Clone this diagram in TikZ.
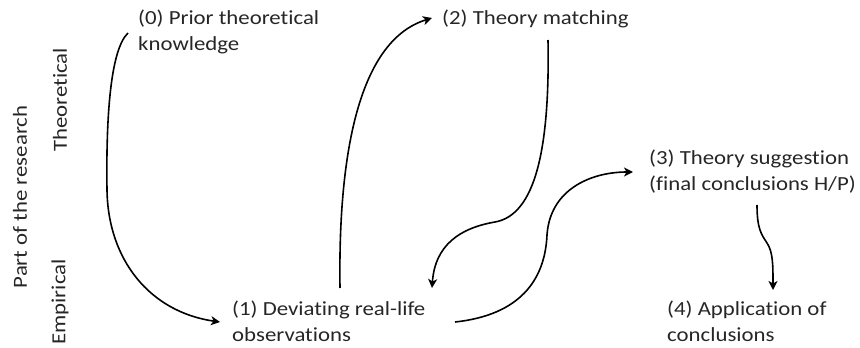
\documentclass[tikz,border=0pt]{standalone}
\usepackage{fontspec}
\setmainfont{Carlito}[Ligatures=NoCommon]
\usetikzlibrary{arrows.meta,calc}
\begin{document}
\begin{tikzpicture}[x=1pt,y=-1pt,
  lbl/.style={anchor=north west,inner sep=0pt,align=left,xscale=1.14,font=\fontsize{20}{25.5}\selectfont,text=black!85},
  side/.style={inner sep=0pt,rotate=90,xscale=1.14,font=\fontsize{20}{25}\selectfont,text=black!85},
  conn/.style={line width=1.6pt,-{Stealth[length=9pt,width=9pt,inset=2.5pt]}}]
\useasboundingbox (0,0) rectangle (860,348);
\node[lbl] (n0) at (138,10) {(0) Prior theoretical\\knowledge};
\node[lbl] (n1) at (232,301) {(1) Deviating real-life\\observations};
\node[lbl] (n2) at (442,10) {(2) Theory matching};
\node[lbl] (n3) at (649,150) {(3) Theory suggestion\\(final conclusions H/P)};
\node[lbl] (n4) at (667,301) {(4) Application of\\conclusions};
\node[side] (part) at (20,197) {Part of the research};
\node[side] (theo) at (60,100) {Theoretical};
\node[side] (emp) at (60,302) {Empirical};
% (0) -> (1)
\draw[conn] ($(n0.north west)+(-10,23)$) .. controls (110,50) and (106,120) .. (107,190) .. controls (108,260) and (150,312) .. ($(n1.north west)+(-12,21)$);
% (1) -> (2)
\draw[conn] ($(n1.north west)+(108,-13)$) .. controls (338,150) and (360,40) .. ($(n2.north west)+(-10,8)$);
% (2) -> (1)
\draw[conn] ($(n2.north west)+(106,30)$) .. controls (550,150) and (535,215) .. (495,222) .. controls (460,228) and (435,245) .. ($(n1.north west)+(200,-13)$);
% (1) -> (3)
\draw[conn] ($(n1.north west)+(223,21)$) .. controls (520,315) and (545,280) .. (547,235) .. controls (550,190) and (590,172) .. ($(n3.north west)+(-16,22)$);
% (3) -> (4)
\draw[conn] ($(n3.north west)+(108,55)$) .. controls (757,230) and (762,235) .. (767,243) .. controls (773,252) and (773,265) .. ($(n4.north west)+(106,-11)$);
\end{tikzpicture}
\end{document}
